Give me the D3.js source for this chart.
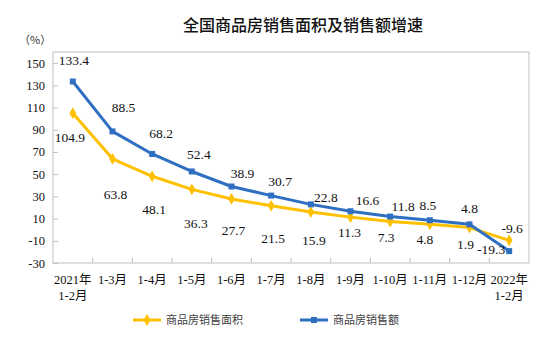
<!DOCTYPE html>
<html>
<head>
<meta charset="utf-8">
<title>全国商品房销售面积及销售额增速</title>
<script src="https://d3js.org/d3.v7.min.js"></script>
<style>
  body { margin: 0; background: #fff; }
  svg { display: block; }
</style>
</head>
<body>
<div id="chart"></div>
<script>
// 月份分类
const months = ["2021年\n1-2月", "1-3月", "1-4月", "1-5月", "1-6月", "1-7月",
                "1-8月", "1-9月", "1-10月", "1-11月", "1-12月", "2022年\n1-2月"];
// 商品房销售面积增速(%)
const areaGrowth = [104.9, 63.8, 48.1, 36.3, 27.7, 21.5, 15.9, 11.3, 7.3, 4.8, 1.9, -9.6];
// 商品房销售额增速(%)
const salesGrowth = [133.4, 88.5, 68.2, 52.4, 38.9, 30.7, 22.8, 16.6, 11.8, 8.5, 4.8, -19.3];
// 纵轴刻度
const yTicks = [-30, -10, 10, 30, 50, 70, 90, 110, 130, 150];

// 数据标签的微调(相对数据点,像素)
const areaLabelNudge = [[-3, 29], [3, 40], [2, 38], [4, 39], [2, 36], [2, 37],
                        [3, 33], [-1, 20], [-4, 20], [-5, 20], [-4, 21], [3, -7]];
const salesLabelNudge = [[1, -17], [11, -19], [9, -16], [7, -12], [11, -8], [9, -10],
                         [15, -2], [17, -6], [13, -6], [-2, -10], [0, -11], [-18, 3]];

const W = 554, H = 338;
const margin = {top: 52, right: 25, bottom: 75, left: 53};
const w = W - margin.left - margin.right;
const h = H - margin.top - margin.bottom;

const serif = "'Liberation Serif', 'Times New Roman', 'Noto Sans CJK SC', serif";
const cjk = "'Noto Sans CJK SC', sans-serif";
const yellow = "#FFC000";
const blue = "#2E6FC2";
const fmt = d => d.toFixed(1);

const svg = d3.select("#chart").append("svg")
    .attr("width", W).attr("height", H);

// 标题
svg.append("text")
    .attr("x", 303).attr("y", 31)
    .attr("text-anchor", "middle")
    .attr("font-family", cjk)
    .attr("font-size", "16px")
    .attr("font-weight", 500)
    .attr("fill", "#111")
    .text("全国商品房销售面积及销售额增速");

svg.append("text")
    .attr("x", 19).attr("y", 44)
    .attr("font-family", cjk)
    .attr("font-size", "11px")
    .attr("fill", "#333")
    .text("（%）");

const g = svg.append("g")
    .attr("transform", `translate(${margin.left},${margin.top})`);

const x = d3.scaleBand().domain(months).range([0, w]);
const y = d3.scaleLinear().domain([-30, 160]).range([h, 0]);
const cx = d => x(d) + x.bandwidth() / 2;

// 边框
g.append("rect")
    .attr("width", w).attr("height", h)
    .attr("fill", "none")
    .attr("stroke", "#bfbfbf")
    .attr("stroke-width", 1);

// 纵轴
const yAxis = g.append("g")
    .call(d3.axisLeft(y).tickValues(yTicks).tickFormat(d => String(d)).tickSize(-5).tickPadding(8));
yAxis.select(".domain").remove();
yAxis.selectAll("line").attr("stroke", "#bfbfbf");
yAxis.selectAll("text")
    .attr("font-family", serif)
    .attr("font-size", "12.5px")
    .attr("fill", "#111");

// 横轴刻度(分类边界,向内)
g.selectAll(".xtick")
    .data(months.slice(1))
    .join("line")
    .attr("class", "xtick")
    .attr("x1", d => x(d)).attr("x2", d => x(d))
    .attr("y1", h).attr("y2", h - 5)
    .attr("stroke", "#bfbfbf");

// 横轴标签
const xl = g.selectAll(".xlabel")
    .data(months)
    .join("text")
    .attr("class", "xlabel")
    .attr("text-anchor", "middle")
    .attr("font-family", serif)
    .attr("font-size", "12.5px")
    .attr("fill", "#111");
xl.each(function(d) {
    const lines = d.split("\n");
    const t = d3.select(this);
    lines.forEach((s, i) => {
        t.append("tspan")
            .attr("x", cx(d))
            .attr("y", h + 21 + i * 16)
            .text(s);
    });
});

const line = d3.line()
    .x((d, i) => cx(months[i]))
    .y(d => y(d));

function drawSeries(vals, color, marker) {
    g.append("path")
        .datum(vals)
        .attr("fill", "none")
        .attr("stroke", color)
        .attr("stroke-width", 3)
        .attr("stroke-linejoin", "round")
        .attr("d", line);
    g.selectAll(null)
        .data(vals)
        .join("path")
        .attr("transform", (d, i) => `translate(${cx(months[i])},${y(d)})`)
        .attr("d", d3.symbol(marker, marker === d3.symbolSquare ? 36 : 40)())
        .attr("fill", color);
}

drawSeries(areaGrowth, yellow, d3.symbolDiamond);
drawSeries(salesGrowth, blue, d3.symbolSquare);

function drawLabels(vals, nudge) {
    g.selectAll(null)
        .data(vals)
        .join("text")
        .attr("x", (d, i) => cx(months[i]) + nudge[i][0])
        .attr("y", (d, i) => y(d) + nudge[i][1])
        .attr("text-anchor", "middle")
        .attr("font-family", serif)
        .attr("font-size", "13.5px")
        .attr("fill", "#111")
        .text(fmt);
}
drawLabels(areaGrowth, areaLabelNudge);
drawLabels(salesGrowth, salesLabelNudge);

// 图例
const legend = [
    {name: "商品房销售面积", color: yellow, marker: d3.symbolDiamond, x: 133},
    {name: "商品房销售额", color: blue, marker: d3.symbolSquare, x: 300}
];
const lg = svg.selectAll(".legend")
    .data(legend)
    .join("g")
    .attr("class", "legend")
    .attr("transform", d => `translate(${d.x},320)`);
lg.append("line")
    .attr("x1", 0).attr("x2", 28)
    .attr("stroke", d => d.color)
    .attr("stroke-width", 3);
lg.append("path")
    .attr("transform", "translate(14,0)")
    .attr("d", d => d3.symbol(d.marker, d.marker === d3.symbolSquare ? 36 : 40)())
    .attr("fill", d => d.color);
lg.append("text")
    .attr("x", 33).attr("y", 4)
    .attr("font-family", cjk)
    .attr("font-size", "11px")
    .attr("fill", "#404040")
    .text(d => d.name);
</script>
</body>
</html>
